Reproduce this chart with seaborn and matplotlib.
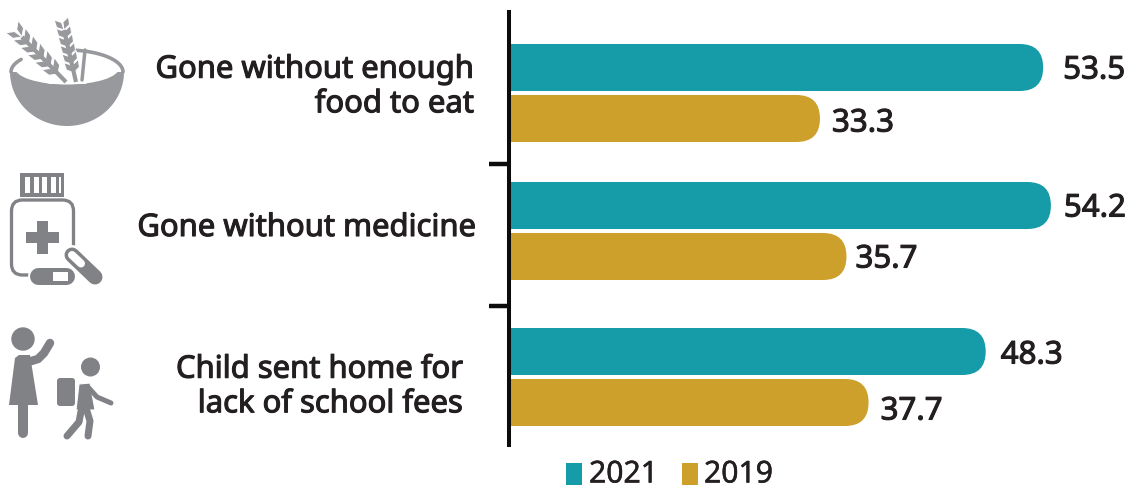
import numpy as np
import pandas as pd
import matplotlib
matplotlib.use("Agg")
import matplotlib.pyplot as plt
import matplotlib.patheffects as pe
from matplotlib.patches import Circle, Ellipse, FancyBboxPatch, Polygon, Rectangle
import seaborn as sns

# Survey data
categories = ["Gone without enough\nfood to eat", "Gone without medicine",
              "Child sent home for\nlack of school fees"]
values_2021 = [53.5, 54.2, 48.3]
values_2019 = [33.3, 35.7, 37.7]
years = ["2021", "2019"]

# Layout, in canvas pixels
W, H = 1129, 487
AX_LEFT, AX_TOP, AX_BOTTOM = 510, 12, 445
row_centres = [93, 231, 377]
row_ticks = [163.5, 306]
label_right = [474, 476, 463]
label_centres = [87, 228, 387]
label_gaps = [20, 12, 13, 9, 15, 12]
label_drops = [3, 5, 3, 3, 4, 9]
X_ORIGIN, PX_PER_UNIT = 5.25, 11.05

TEAL, GOLD = "#169ba8", "#cda02c"
INK = "#231f20"
FONT = ["Noto Sans", "DejaVu Sans"]
PT = 0.72  # points per canvas pixel
HEAVY = [pe.withStroke(linewidth=0.8, foreground=INK)]
MEDIUM = [pe.withStroke(linewidth=0.35, foreground=INK)]

sns.set_theme(style="white")
plt.rcParams["font.family"] = FONT

fig = plt.figure(figsize=(W / 100, H / 100), dpi=100)
ax = fig.add_axes([AX_LEFT / W, 1 - AX_BOTTOM / H, (W - AX_LEFT) / W, (AX_BOTTOM - AX_TOP) / H])

df = pd.DataFrame({
    "row": row_centres * 2,
    "share": values_2021 + values_2019,
    "year": [years[0]] * 3 + [years[1]] * 3,
})
sns.barplot(data=df, x="share", y="row", hue="year", hue_order=years, orient="h",
            native_scale=True, palette=[TEAL, GOLD], saturation=1, width=0.739, gap=0.078,
            legend=False, ax=ax)
ax.set_xlim(X_ORIGIN, X_ORIGIN + (W - AX_LEFT) / PX_PER_UNIT)
ax.set_ylim(AX_BOTTOM, AX_TOP)

# Swap the square bars for ones with a rounded free end
bars = sorted([p for p in ax.patches if p.get_width() > 0],
              key=lambda p: p.get_y())
for bar in bars:
    x, y, w, h = bar.get_x(), bar.get_y(), bar.get_width(), bar.get_height()
    colour = bar.get_facecolor()
    bar.set_visible(False)
    radius = (h / 2) / PX_PER_UNIT
    ax.add_patch(FancyBboxPatch((x, y), w, h,
                                boxstyle=f"round,pad=0,rounding_size={radius}",
                                mutation_aspect=PX_PER_UNIT, fc=colour, ec="none", zorder=2))

# Value labels
for bar, gap, drop in zip(bars, label_gaps, label_drops):
    ax.annotate(f"{bar.get_width():.1f}",
                xy=(bar.get_width(), bar.get_y() + bar.get_height() / 2 + drop),
                xytext=(gap * PT, 0), textcoords="offset points",
                va="center", ha="left", fontsize=22.5, color=INK, path_effects=HEAVY)

# Axis line and separators
ax.set_xticks([])
ax.set_yticks(row_ticks, labels=[])
ax.set_ylabel("")
ax.set_xlabel("")
ax.tick_params(axis="y", left=True, length=14.5, width=3.2, color="#0c0c0c")
for side in ("top", "right", "bottom"):
    ax.spines[side].set_visible(False)
ax.spines["left"].set_color("#0c0c0c")
ax.spines["left"].set_linewidth(2.9)
ax.spines["left"].set_position(("outward", 1))
ax.spines["left"].set_zorder(5)
ax.patch.set_alpha(0)

# Overlay in pixel coordinates for row labels, icons and legend
ov = fig.add_axes([0, 0, 1, 1], zorder=-1)
ov.set_xlim(0, W)
ov.set_ylim(H, 0)
ov.axis("off")

for cat, xr, yc in zip(categories, label_right, label_centres):
    ov.text(xr, yc, cat, ha="right", va="center", multialignment="right",
            fontsize=22.3, color=INK, linespacing=1.2, path_effects=HEAVY)

# Bowl of grain
BOWL = "#97999c"
t = np.linspace(0, np.pi, 60)
ov.add_patch(Polygon(np.c_[67 + 57 * np.cos(t), 72 + 54 * np.sin(t)], fc=BOWL, ec="none"))
ov.add_patch(Ellipse((67, 68), 104, 33, fc="white", ec="none"))
t = np.linspace(np.radians(-82), np.radians(0), 30)
ov.plot(67 + 56 * np.cos(t), 72 + 22 * np.sin(t), color=BOWL, lw=3 * PT * 1.2,
        solid_capstyle="round")
t = np.linspace(np.radians(180), np.radians(215), 12)
ov.plot(67 + 56 * np.cos(t), 72 + 22 * np.sin(t), color=BOWL, lw=3 * PT * 1.2,
        solid_capstyle="round")


def grain_stalk(start, end, grains, length, width, splay=0.55):
    """Draw an ear of grain as paired leaf shapes along a stem."""
    start, end = np.array(start, float), np.array(end, float)
    axis = (end - start) / np.linalg.norm(end - start)
    normal = np.array([-axis[1], axis[0]])
    ov.plot(*zip(start, end), color=BOWL, lw=3, solid_capstyle="butt", zorder=3)
    for f in np.linspace(0.0, 0.82, grains):
        base = start + f * (end - start)
        for s in (-1, 1):
            d = axis * -np.cos(splay) + s * normal * np.sin(splay)
            n = np.array([-d[1], d[0]])
            tip = base + d * length
            mid = base + d * length * 0.5
            ov.add_patch(Polygon([base, mid + n * width / 2, tip, mid - n * width / 2],
                                 fc=BOWL, ec="white", lw=0.7, zorder=2))


grain_stalk((22, 37), (66, 82), grains=6, length=17, width=7)
grain_stalk((64, 30), (76, 82), grains=6, length=14, width=7)
ov.plot([85, 82], [50, 80], color=BOWL, lw=2.5, zorder=3)
ov.add_patch(Polygon([(36, 80), (95, 80), (85, 84), (50, 84)], fc="white", ec="none", zorder=2.5))

# Medicine bottle with capsules
MED = "#808285"
ov.add_patch(Rectangle((20, 173), 43.5, 24, fc=MED, ec="none"))
for sx in (25, 33.5, 42, 50.5):
    ov.add_patch(Rectangle((sx, 177), 5, 16, fc="white", ec="none"))
ov.add_patch(Rectangle((59, 177), 2, 16, fc="white", ec="none"))
ov.add_patch(FancyBboxPatch((11.5, 200), 62, 75, boxstyle="round,pad=0,rounding_size=11",
                            fc="none", ec=MED, lw=3.3 * PT))
ov.add_patch(Rectangle((26, 232), 33, 11, fc=MED, ec="none"))
ov.add_patch(Rectangle((37, 221), 11, 33, fc=MED, ec="none"))
ov.plot([38, 66], [276, 276], color="white", lw=21 * PT, solid_capstyle="round", zorder=3)
ov.plot([38, 66], [276, 276], color=MED, lw=17 * PT, solid_capstyle="round", zorder=3)
ov.add_patch(Rectangle((53, 272), 15, 9, fc="white", ec="none", zorder=3.5))
ov.plot([72, 95], [255, 277], color="white", lw=20 * PT, solid_capstyle="round", zorder=4)
ov.plot([72, 95], [255, 277], color=MED, lw=15 * PT, solid_capstyle="round", zorder=4)
ov.plot([72, 81], [255, 263.5], color="white", lw=8 * PT, solid_capstyle="round", zorder=4)

# Parent waving to a child with a backpack
PEOPLE = "#808285"
ov.add_patch(Circle((23, 339), 11.7, fc=PEOPLE, ec="none"))
ov.add_patch(Polygon([(15, 358), (19, 355), (30, 355), (38, 405), (9, 405)], fc=PEOPLE, ec="none"))
ov.plot([28, 38, 44, 50], [362, 359, 353, 343], color=PEOPLE, lw=8.5 * PT, solid_capstyle="round")
ov.plot([23, 23], [405, 433], color=PEOPLE, lw=10 * PT, solid_capstyle="round")
ov.add_patch(Circle((90.5, 367), 9.5, fc=PEOPLE, ec="none"))
ov.add_patch(FancyBboxPatch((57, 378), 18, 28, boxstyle="round,pad=0,rounding_size=3",
                            fc=PEOPLE, ec="none"))
ov.add_patch(Polygon([(79, 384), (90, 383), (95, 410), (76, 410)], fc=PEOPLE, ec="white",
                     lw=0.8, zorder=2))
ov.plot([88, 97, 111], [387, 397, 403], color=PEOPLE, lw=5 * PT, solid_capstyle="round", zorder=3)
ov.plot([82, 79, 67], [406, 422, 436], color=PEOPLE, lw=7 * PT, solid_capstyle="round", zorder=3)
ov.plot([86, 90, 88], [408, 421, 436], color=PEOPLE, lw=7 * PT, solid_capstyle="round", zorder=3)

# Legend
for swatch_x, text_x, year, colour in zip((566, 682), (589, 704), years, (TEAL, GOLD)):
    ov.add_patch(Rectangle((swatch_x, 463), 16, 22, fc=colour, ec="none"))
    ov.text(text_x, 474.5, year, ha="left", va="center", fontsize=21.7, color=INK,
            path_effects=MEDIUM)

fig.savefig("out.png", dpi=100)
